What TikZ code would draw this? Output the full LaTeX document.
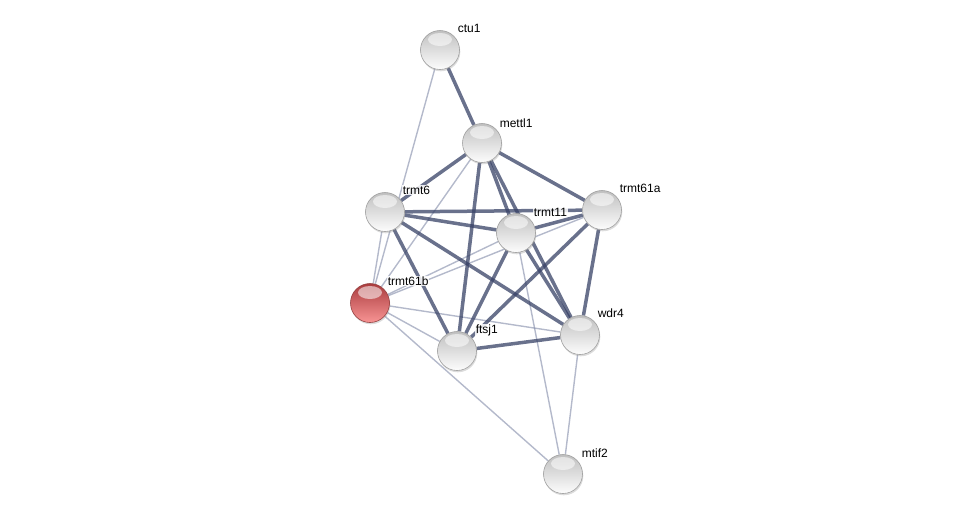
\documentclass[tikz,border=0pt]{standalone}
\usepackage{fontspec}
\setmainfont{Liberation Sans}
\usetikzlibrary{shadows}
\pgfdeclarelayer{bg}
\pgfsetlayers{bg,main}
\definecolor{strongc}{RGB}{55,65,102}
\definecolor{weakc}{RGB}{118,128,160}
\definecolor{redtop}{RGB}{170,60,62}
\definecolor{redbot}{RGB}{248,148,148}
\definecolor{redrim}{RGB}{150,65,65}
\tikzset{
  basenode/.style={circle, minimum size=39pt, inner sep=0pt, line width=0.6pt,
    drop shadow={shadow xshift=0.8pt, shadow yshift=-1.8pt, opacity=0.28},
    path picture={\fill[white, fill opacity=0.55, shift={(path picture bounding box.center)}] (0pt,10.5pt) ellipse [x radius=12pt, y radius=6.5pt];}},
  gball/.style={basenode, draw=gray!75, top color=gray!50, bottom color=gray!2},
  rball/.style={basenode, draw=redrim, top color=redtop, bottom color=redbot},
  lab/.style={anchor=base west, font=\fontsize{12}{14}\selectfont, inner sep=0.6pt, fill=white, fill opacity=0.85, text opacity=1},
  strong/.style={draw=strongc, draw opacity=0.75, line width=3.5pt},
  weak/.style={draw=weakc, draw opacity=0.55, line width=1.4pt}
}
\begin{document}
\begin{tikzpicture}[x=1pt,y=-1pt]
\useasboundingbox (0,0) rectangle (976,520);
% nodes
\node[gball] (ctu1) at (440,50) {};
\node[gball] (mettl1) at (482,143) {};
\node[gball] (trmt6) at (385,212) {};
\node[gball] (trmt61a) at (602,210) {};
\node[gball] (trmt11) at (516,233) {};
\node[rball] (trmt61b) at (370,303) {};
\node[gball] (wdr4) at (580,335) {};
\node[gball] (ftsj1) at (457,351) {};
\node[gball] (mtif2) at (563,474) {};
% labels
\node[lab] (lctu1) at (457,32) {ctu1};
\node[lab] (lmettl1) at (499,127) {mettl1};
\node[lab] (ltrmt6) at (402,194) {trmt6};
\node[lab] (ltrmt61a) at (619,192) {trmt61a};
\node[lab] (ltrmt11) at (533,216) {trmt11};
\node[lab] (ltrmt61b) at (387,285) {trmt61b};
\node[lab] (lwdr4) at (597,317) {wdr4};
\node[lab] (lftsj1) at (475,333) {ftsj1};
\node[lab] (lmtif2) at (581,457) {mtif2};
% edges
\begin{pgfonlayer}{bg}
\draw[weak] (ctu1) -- (trmt61b);
\draw[weak] (mettl1) -- (trmt61b);
\draw[weak] (trmt6) -- (trmt61b);
\draw[weak] (trmt61b) -- (trmt11);
\draw[weak] (trmt61b) -- (trmt61a);
\draw[weak] (trmt61b) -- (wdr4);
\draw[weak] (trmt61b) -- (ftsj1);
\draw[weak] (trmt61b) -- (mtif2);
\draw[weak] (trmt11) -- (mtif2);
\draw[weak] (wdr4) -- (mtif2);
\draw[strong] (ctu1) -- (mettl1);
\draw[strong] (mettl1) -- (trmt6);
\draw[strong] (mettl1) -- (trmt61a);
\draw[strong] (mettl1) -- (trmt11);
\draw[strong] (mettl1) -- (ftsj1);
\draw[strong] (mettl1) -- (wdr4);
\draw[strong] (trmt6) -- (trmt61a);
\draw[strong] (trmt6) -- (trmt11);
\draw[strong] (trmt6) -- (ftsj1);
\draw[strong] (trmt6) -- (wdr4);
\draw[strong] (trmt11) -- (trmt61a);
\draw[strong] (trmt11) -- (ftsj1);
\draw[strong] (trmt11) -- (wdr4);
\draw[strong] (trmt61a) -- (wdr4);
\draw[strong] (trmt61a) -- (ftsj1);
\draw[strong] (ftsj1) -- (wdr4);
\end{pgfonlayer}
\end{tikzpicture}
\end{document}
